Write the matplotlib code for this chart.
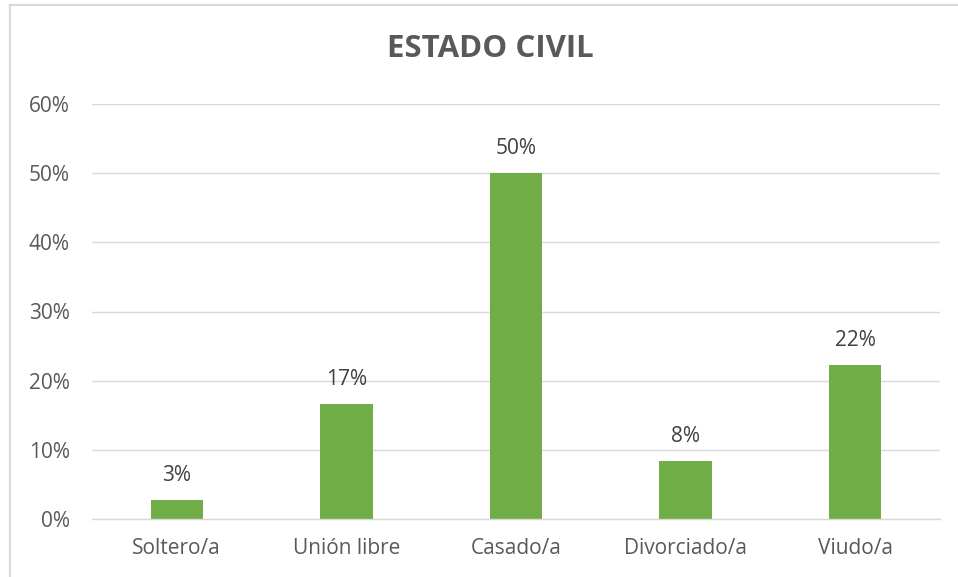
import matplotlib
matplotlib.use("Agg")
import matplotlib.pyplot as plt
from matplotlib.lines import Line2D
from matplotlib.ticker import FuncFormatter

# datos
categorias = ["Soltero/a", "Unión libre", "Casado/a", "Divorciado/a", "Viudo/a"]
porcentajes = [2.78, 16.67, 50.0, 8.33, 22.22]
etiquetas = ["3%", "17%", "50%", "8%", "22%"]
titulo = "ESTADO CIVIL"

gris_texto = "#595959"
gris_etiqueta = "#404040"
gris_linea = "#d9d9d9"
verde = "#70AD47"

plt.rcParams["font.family"] = ["Open Sans", "DejaVu Sans"]

W, H = 958, 577
fig = plt.figure(figsize=(W / 100, H / 100), dpi=100)
ax = fig.add_axes([92 / W, 1 - 519 / H, (940 - 92) / W, (519 - 104) / H])

x = range(len(categorias))
barras = ax.bar(x, porcentajes, width=0.31, color=verde, zorder=3)

for b, txt in zip(barras, etiquetas):
    ax.annotate(txt, (b.get_x() + b.get_width() / 2, b.get_height()),
                xytext=(0, 10), textcoords="offset points",
                ha="center", va="bottom", fontsize=15, color=gris_etiqueta)

ax.set_xlim(-0.5, len(categorias) - 0.5)
ax.set_ylim(0, 60)
ax.set_yticks(range(0, 61, 10))
ax.yaxis.set_major_formatter(FuncFormatter(lambda v, p: f"{v:.0f}%"))
ax.set_xticks(list(x))
ax.set_xticklabels(categorias)

ax.grid(axis="y", color=gris_linea, linewidth=1, zorder=0)
for s in ["top", "right", "left"]:
    ax.spines[s].set_visible(False)
ax.spines["bottom"].set_color(gris_linea)
ax.spines["bottom"].set_linewidth(1)
ax.spines["bottom"].set_zorder(4)

ax.tick_params(axis="both", length=0, colors=gris_texto, labelsize=15)
ax.tick_params(axis="x", pad=14)
ax.tick_params(axis="y", pad=16)

fig.text(490 / W, 1 - 49 / H, titulo, ha="center", va="center",
         fontsize=22.5, fontweight="bold", color=gris_texto)

# borde del gráfico
fig.add_artist(Line2D([10 / W, 10 / W], [0, 1 - 5 / H], color=gris_linea,
                      linewidth=1.5, transform=fig.transFigure))
fig.add_artist(Line2D([10 / W, 1], [1 - 5 / H, 1 - 5 / H], color=gris_linea,
                      linewidth=1.5, transform=fig.transFigure))

fig.savefig("out.png", dpi=100)
